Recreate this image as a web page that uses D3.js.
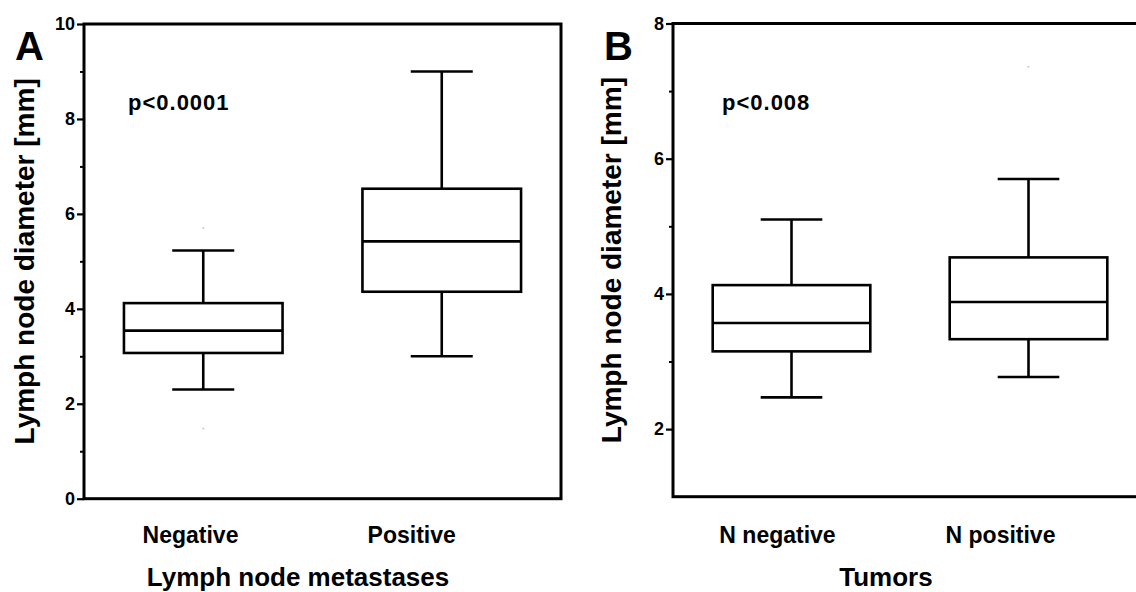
<!DOCTYPE html>
<html>
<head>
<meta charset="utf-8">
<script src="https://cdn.jsdelivr.net/npm/d3@7"></script>
<style>
  html, body { margin: 0; padding: 0; background: #fff; }
  svg { display: block; }
  text { font-family: "Liberation Sans", Arial, sans-serif; font-weight: bold; fill: #000; }
</style>
</head>
<body>
<svg id="chart" width="1136" height="592"></svg>
<script>
// Panel A: lymph node diameter by metastasis status
const catsA = ["Negative", "Positive"];
const minA = [2.30, 3.00];
const q1A = [3.07, 4.36];
const medA = [3.54, 5.42];
const q3A = [4.12, 6.53];
const maxA = [5.23, 9.00];
const outliersA = [[0, 5.70], [0, 1.48]];
const majorTicksA = [0, 2, 4, 6, 8, 10];
const minorTicksA = [1, 3, 5, 7, 9];

// Panel B: lymph node diameter by tumour N status
const catsB = ["N negative", "N positive"];
const minB = [2.47, 2.77];
const q1B = [3.15, 3.33];
const medB = [3.57, 3.88];
const q3B = [4.13, 4.54];
const maxB = [5.10, 5.70];
const outliersB = [[1, 7.36]];
const majorTicksB = [2, 4, 6, 8];
const minorTicksB = [3, 5, 7];

const svg = d3.select("#chart");
const FONT = "'Liberation Sans', Arial, sans-serif";

function panel(cfg) {
  const g = svg.append("g");
  const y = d3.scaleLinear().domain(cfg.yDomain).range([cfg.bottom, cfg.top]);
  const x = d3.scaleBand().domain(cfg.cats).range([cfg.left, cfg.right]).padding(0);
  const lx = d3.scalePoint().domain(cfg.cats).range(cfg.labelRange);

  // minor ticks
  g.append("g")
    .attr("transform", `translate(${cfg.left},0)`)
    .call(d3.axisLeft(y).tickValues(cfg.minor).tickSize(4).tickFormat(""))
    .call(a => a.select(".domain").remove())
    .call(a => a.selectAll("line").attr("stroke", "#000").attr("stroke-width", 2));

  // major ticks with labels
  g.append("g")
    .attr("transform", `translate(${cfg.left},0)`)
    .call(d3.axisLeft(y).tickValues(cfg.major).tickSize(7).tickPadding(2).tickFormat(d3.format("d")))
    .call(a => a.select(".domain").remove())
    .call(a => a.selectAll("line").attr("stroke", "#000").attr("stroke-width", 2.2))
    .call(a => a.selectAll("text")
      .attr("fill", "#000")
      .style("font-family", FONT)
      .style("font-weight", "bold")
      .style("font-size", "18px"));

  // frame
  g.append("rect")
    .attr("x", cfg.left).attr("y", y(cfg.yDomain[1]))
    .attr("width", cfg.right - cfg.left)
    .attr("height", y(cfg.yDomain[0]) - y(cfg.yDomain[1]))
    .attr("fill", "none").attr("stroke", "#000").attr("stroke-width", 3);

  const boxW = x.bandwidth() * 0.665;
  const capW = x.bandwidth() * 0.26;
  const idx = d3.range(cfg.cats.length);
  const cx = i => x(cfg.cats[i]) + x.bandwidth() / 2;
  const sw = 2.6;

  const boxes = g.selectAll(".box").data(idx).join("g").attr("class", "box");
  // whiskers
  boxes.append("line")
    .attr("x1", cx).attr("x2", cx)
    .attr("y1", i => y(cfg.max[i])).attr("y2", i => y(cfg.q3[i]))
    .attr("stroke", "#000").attr("stroke-width", sw);
  boxes.append("line")
    .attr("x1", cx).attr("x2", cx)
    .attr("y1", i => y(cfg.q1[i])).attr("y2", i => y(cfg.min[i]))
    .attr("stroke", "#000").attr("stroke-width", sw);
  // caps
  boxes.append("line")
    .attr("x1", i => cx(i) - capW / 2).attr("x2", i => cx(i) + capW / 2)
    .attr("y1", i => y(cfg.max[i])).attr("y2", i => y(cfg.max[i]))
    .attr("stroke", "#000").attr("stroke-width", sw);
  boxes.append("line")
    .attr("x1", i => cx(i) - capW / 2).attr("x2", i => cx(i) + capW / 2)
    .attr("y1", i => y(cfg.min[i])).attr("y2", i => y(cfg.min[i]))
    .attr("stroke", "#000").attr("stroke-width", sw);
  // box
  boxes.append("rect")
    .attr("x", i => cx(i) - boxW / 2)
    .attr("y", i => y(cfg.q3[i]))
    .attr("width", boxW)
    .attr("height", i => y(cfg.q1[i]) - y(cfg.q3[i]))
    .attr("fill", "none").attr("stroke", "#000").attr("stroke-width", sw);
  // median
  boxes.append("line")
    .attr("x1", i => cx(i) - boxW / 2).attr("x2", i => cx(i) + boxW / 2)
    .attr("y1", i => y(cfg.med[i])).attr("y2", i => y(cfg.med[i]))
    .attr("stroke", "#000").attr("stroke-width", sw);

  // faint outlying points
  g.selectAll(".out").data(cfg.outliers).join("circle")
    .attr("cx", d => cx(d[0])).attr("cy", d => y(d[1]))
    .attr("r", 1).attr("fill", "#c8c8c8");

  // category labels
  g.selectAll(".cat").data(cfg.cats).join("text")
    .attr("x", d => lx(d)).attr("y", 543)
    .attr("text-anchor", "middle")
    .style("font-size", "23px")
    .text(d => d);

  // x-axis title
  g.append("text")
    .attr("x", cfg.xTitleX).attr("y", 586)
    .attr("text-anchor", "middle")
    .style("font-size", "26px")
    .text(cfg.xTitle);

  // y-axis title
  g.append("text")
    .attr("transform", `translate(${cfg.yTitleX},${(cfg.top + cfg.bottom) / 2}) rotate(-90)`)
    .attr("text-anchor", "middle")
    .style("font-size", "28px")
    .text("Lymph node diameter [mm]");

  // panel letter
  g.append("text")
    .attr("x", cfg.letterX).attr("y", 60)
    .style("font-size", "40px")
    .text(cfg.letter);

  // significance
  g.append("text")
    .attr("x", cfg.pX).attr("y", 110)
    .style("font-size", "22px")
    .style("letter-spacing", "1px")
    .text(cfg.pText);
}

panel({
  cats: catsA, min: minA, q1: q1A, med: medA, q3: q3A, max: maxA, outliers: outliersA,
  major: majorTicksA, minor: minorTicksA, yDomain: [0, 10],
  left: 84, right: 561, top: 24, bottom: 498.7,
  labelRange: [190.5, 411.7],
  xTitle: "Lymph node metastases", xTitleX: 298, yTitleX: 34,
  letter: "A", letterX: 15, pText: "p<0.0001", pX: 128
});

panel({
  cats: catsB, min: minB, q1: q1B, med: medB, q3: q3B, max: maxB, outliers: outliersB,
  major: majorTicksB, minor: minorTicksB, yDomain: [1, 8],
  left: 673, right: 1147, top: 23.5, bottom: 496.7,
  labelRange: [777.5, 1000.5],
  xTitle: "Tumors", xTitleX: 886, yTitleX: 621,
  letter: "B", letterX: 604, pText: "p<0.008", pX: 722
});
</script>
</body>
</html>
